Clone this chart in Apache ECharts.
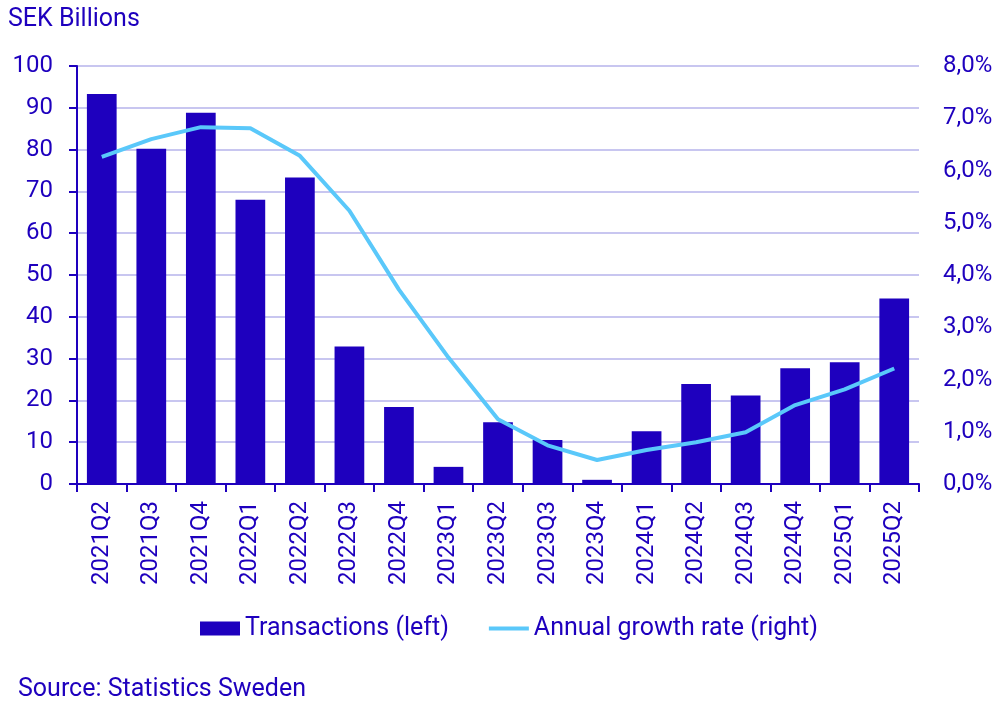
<!DOCTYPE html>
<html>
<head>
<meta charset="utf-8">
<script src="https://cdn.jsdelivr.net/npm/echarts@6/dist/echarts.min.js"></script>
<style>
  html, body { margin: 0; padding: 0; background: #fff; }
  #chart { width: 1004px; height: 713px; }
</style>
</head>
<body>
<div id="chart"></div>
<script>
var quarters = ['2021Q2', '2021Q3', '2021Q4', '2022Q1', '2022Q2', '2022Q3', '2022Q4', '2023Q1', '2023Q2',
    '2023Q3', '2023Q4', '2024Q1', '2024Q2', '2024Q3', '2024Q4', '2025Q1', '2025Q2'];
var transactions = [93.3, 80.2, 88.8, 68.0, 73.3, 32.9, 18.4, 4.1, 14.8, 10.5, 1.0, 12.6, 23.9, 21.2, 27.7, 29.1, 44.4];
var growthRate = [6.26, 6.60, 6.83, 6.81, 6.28, 5.23, 3.72, 2.42, 1.24, 0.74, 0.46, 0.65, 0.80, 0.99, 1.51, 1.81, 2.21];

var dark = '#1e00be';
var light = '#5ac8fa';
var font = 'Roboto';

var myChart = echarts.init(document.getElementById('chart'));
var option = {
    animation: false,
    textStyle: { fontFamily: font, color: dark },
    title: [
        { text: 'SEK Billions', left: 3, top: 2, textStyle: { fontSize: 25, fontWeight: 'normal', color: dark, fontFamily: font } },
        { text: 'Source: Statistics Sweden', left: 13, top: 672, textStyle: { fontSize: 25, fontWeight: 'normal', color: dark, fontFamily: font } }
    ],
    legend: {
        left: 195,
        top: 611,
        itemWidth: 40,
        itemHeight: 14,
        itemGap: 40,
        textStyle: { fontSize: 25, color: dark, fontFamily: font },
        data: [
            { name: 'Transactions (left)', icon: 'rect' },
            { name: 'Annual growth rate (right)', icon: 'path://M0,0 M40,14 M0,5 L40,5 L40,9 L0,9 Z' }
        ]
    },
    grid: { left: 77, right: 85, top: 66, bottom: 229 },
    xAxis: {
        type: 'category',
        data: quarters,
        axisLine: { lineStyle: { color: dark, width: 2 } },
        axisTick: { show: true, length: 8, lineStyle: { color: dark, width: 2 } },
        axisLabel: { rotate: 90, fontSize: 24, color: dark, margin: 17, interval: 0 }
    },
    yAxis: [
        {
            type: 'value', min: 0, max: 100, interval: 10,
            axisLine: { show: true, lineStyle: { color: dark, width: 2 } },
            axisTick: { show: true, length: 8, lineStyle: { color: dark, width: 2 } },
            axisLabel: { fontSize: 24, color: dark, margin: 24 },
            splitLine: { lineStyle: { color: '#c8c6f0', width: 2 } }
        },
        {
            type: 'value', min: 0, max: 8, interval: 1,
            axisLine: { show: false },
            axisTick: { show: false },
            axisLabel: {
                fontSize: 24, color: dark, margin: 24,
                formatter: function (v) { return v.toFixed(1).replace('.', ',') + '%'; }
            },
            splitLine: { show: false }
        }
    ],
    series: [
        {
            name: 'Transactions (left)',
            type: 'bar',
            data: transactions,
            barWidth: '60%',
            itemStyle: { color: dark }
        },
        {
            name: 'Annual growth rate (right)',
            type: 'line',
            yAxisIndex: 1,
            data: growthRate,
            symbol: 'none',
            lineStyle: { color: light, width: 4 },
            itemStyle: { color: light }
        }
    ]
};
myChart.setOption(option);
</script>
</body>
</html>
